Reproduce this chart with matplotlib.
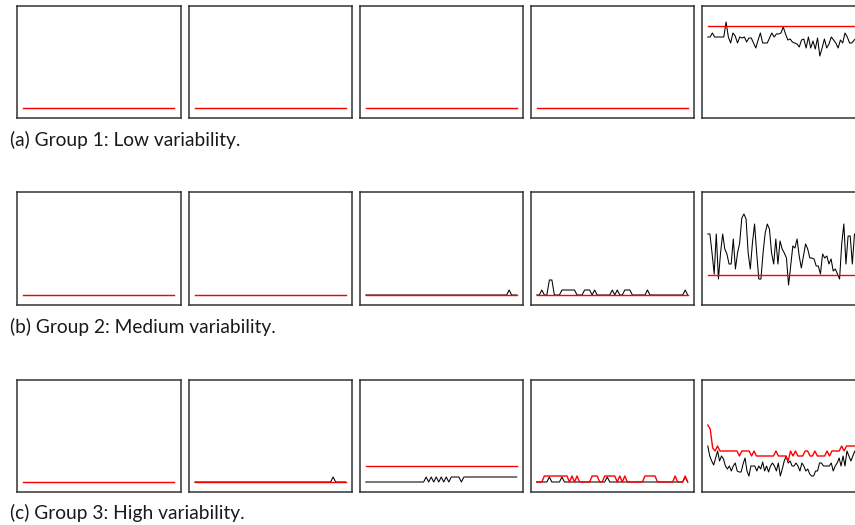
import matplotlib
matplotlib.use("Agg")
import matplotlib.pyplot as plt
import numpy as np

plt.rcParams['font.family'] = ['Lato', 'DejaVu Sans']

captions = ["(a) Group 1: Low variability.",
            "(b) Group 2: Medium variability.",
            "(c) Group 3: High variability."]

zero61 = [0] * 61

# Group 1
g1_black = [zero61, zero61, zero61, zero61,
            [71, 71, 75, 71, 71, 71, 71, 71, 86, 71, 65, 75, 72, 65, 71, 70, 71, 66, 70, 70,
             65, 60, 68, 75, 65, 65, 65, 70, 75, 71, 74, 74, 75, 81, 74, 68, 69, 66, 65, 64,
             61, 68, 69, 60, 71, 60, 67, 59, 70, 52, 60, 69, 60, 64, 71, 68, 65, 60, 68, 65,
             75, 71, 65, 65, 68, 70, 68]]
g1_red = [zero61, zero61, zero61, zero61, [82] * 67]

# Group 2
g2c3_black = [0] * 57 + [5] + [0] * 3
g2c4_black = [0, 0, 5, 0, 0, 15, 15, 0, 0, 0, 5, 5, 5, 5, 5, 5, 0, 0, 0, 5,
              5, 5, 0, 5, 0, 0, 0, 0, 0, 0, 5, 0, 5, 0, 0, 5, 5, 5, 0, 0,
              0, 0, 0, 0, 5, 0, 0, 0, 0, 0, 0, 0, 0, 0, 0, 0, 0, 0, 0, 5, 0]
g2c5_black = [61, 61, 42, 21, 61, 16, 42, 61, 46, 41, 31, 31, 56, 26, 42, 52, 77, 81, 76, 42,
              26, 52, 71, 42, 16, 16, 42, 62, 71, 66, 42, 31, 56, 31, 54, 46, 42, 37, 10, 29,
              49, 47, 56, 39, 27, 39, 51, 46, 37, 37, 36, 29, 29, 21, 41, 37, 39, 31, 36, 24,
              26, 21, 16, 51, 71, 31, 59, 59, 31, 61, 61, 50]
g2_black = [zero61, zero61, g2c3_black, g2c4_black, g2c5_black]
g2_red = [zero61, zero61, zero61, zero61, [20] * 72]

# Group 3
g3c2_black = [0] * 55 + [5] + [0] * 5
g3c3_black = [0] * 24 + [5, 0, 5, 0, 5, 0, 5, 0, 5, 0, 5, 5, 5, 5, 0] + [5] * 22
g3c3_red = [16] * 61
g3c4_black = [0, 0, 0, 0, 0, 5, 0, 0, 0, 0, 5, 0, 0, 0, 0, 0, 0, 0, 0, 0,
              0, 0, 0, 0, 0, 0, 0, 0, 5, 0, 0, 0, 0, 0, 0, 0, 0, 0, 0, 0,
              0, 0, 0, 0, 0, 0, 0, 0, 0, 0, 0, 0, 0, 0, 0, 0, 0, 0, 0, 5, 0]
g3c4_red = [0, 0, 0, 6, 6, 6, 6, 6, 6, 6, 6, 6, 6, 0, 6, 0, 6, 0, 0, 0,
            0, 0, 6, 6, 6, 0, 0, 6, 6, 6, 6, 6, 0, 6, 0, 6, 0, 0, 0, 0,
            0, 0, 0, 6, 6, 6, 6, 6, 0, 0, 0, 0, 0, 0, 0, 6, 0, 0, 0, 6, 0]
g3c5_black = [36, 26, 21, 17, 24, 31, 21, 26, 23, 16, 13, 16, 11, 16, 19, 11, 10, 10, 18, 24,
              11, 6, 16, 16, 16, 11, 16, 13, 20, 11, 16, 10, 16, 19, 16, 11, 19, 6, 13, 21,
              26, 19, 21, 16, 16, 19, 16, 11, 19, 16, 11, 13, 8, 6, 6, 11, 11, 19, 19, 16,
              16, 16, 16, 19, 11, 16, 19, 24, 16, 26, 16, 31, 26, 21, 26, 31, 26, 21]
g3c5_red = [57, 53, 34, 31, 36, 31, 31, 31, 31, 31, 31, 31, 31, 26, 31, 31, 31, 31, 26, 31,
            26, 26, 26, 26, 26, 26, 26, 26, 31, 26, 26, 26, 26, 21, 31, 26, 31, 26, 26, 26,
            31, 31, 26, 26, 31, 26, 26, 26, 26, 31, 26, 31, 31, 31, 31, 36, 31, 36, 36, 36,
            36, 36, 36]
g3_black = [zero61, g3c2_black, g3c3_black, g3c4_black, g3c5_black]
g3_red = [zero61, zero61, g3c3_red, g3c4_red, g3c5_red]

groups = [(g1_black, g1_red), (g2_black, g2_red), (g3_black, g3_red)]

W, H = 855, 525
fig = plt.figure(figsize=(W / 100, H / 100), dpi=100)

col_left = [17, 188.5, 359.5, 530.5, 701.5]
row_top = [5.5, 192.5, 379.5]
box_w, box_h = 163.5, 112
cap_y = [140, 327, 513]

for r, (blacks, reds) in enumerate(groups):
    for c in range(5):
        ax = fig.add_axes([col_left[c] / W, 1 - (row_top[r] + box_h) / H,
                           box_w / W, box_h / H])
        b = blacks[c]
        rd = reds[c]
        ax.plot(np.linspace(0, 60, len(b)), b, color='black', lw=0.75)
        ax.plot(np.linspace(0, 60, len(rd)), rd, color='#ff0000', lw=1.0)
        ax.set_xlim(-2.5, 62.5)
        ax.set_ylim(-9.5, 102.5)
        ax.set_xticks([])
        ax.set_yticks([])
        for s in ax.spines.values():
            s.set_color('#333333')
            s.set_linewidth(1.1)
    fig.text(10 / W, 1 - cap_y[r] / H, captions[r], fontsize=13.8,
             va='center', ha='left', color='#1a1a1a')

fig.savefig("out.png", dpi=100)
